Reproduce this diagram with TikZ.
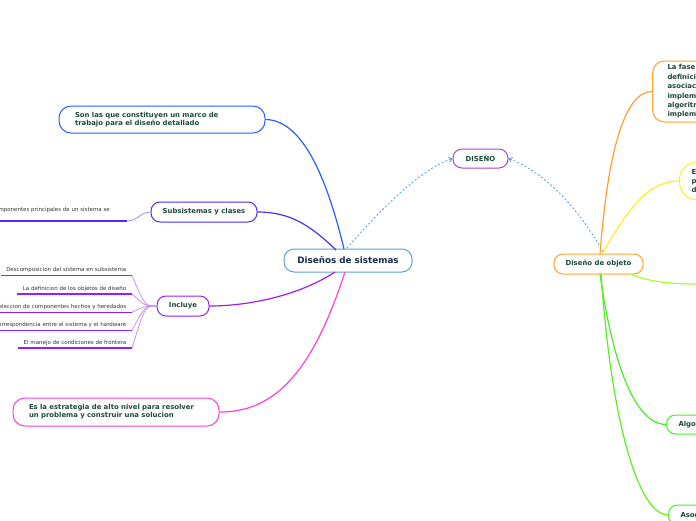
\documentclass[tikz,border=0pt]{standalone}
\usepackage{fontspec}
\setmainfont{DejaVu Sans}
\usetikzlibrary{arrows.meta}
\definecolor{labgreen}{HTML}{1D4A3A}
\definecolor{navy}{HTML}{1A2A50}
\definecolor{leafgray}{HTML}{333333}
\definecolor{cblue}{HTML}{5BA3D9}
\definecolor{cpurple}{HTML}{B23EE6}
\definecolor{corange}{HTML}{FFA030}
\definecolor{cbrightblue}{HTML}{2A5CFF}
\definecolor{cindigo}{HTML}{4B2EF0}
\definecolor{cviolet}{HTML}{9B1FF0}
\definecolor{clviolet}{HTML}{C890F5}
\definecolor{cmagenta}{HTML}{FF40D8}
\definecolor{cyellow}{HTML}{FFEE22}
\definecolor{cgreen}{HTML}{44EE22}
\definecolor{cygreen}{HTML}{A8FF30}
\definecolor{cdash}{HTML}{5599DD}
\begin{document}
\begin{tikzpicture}[x=1pt,y=-1pt,
  box/.style={draw, fill=white, rounded corners=9pt, line width=1pt,
    font=\bfseries\fontsize{6.9}{8.2}\selectfont, text=labgreen, inner sep=0pt},
  leaf/.style={font=\fontsize{5.5}{6.3}\selectfont, text=leafgray, anchor=south east,
    inner xsep=5.5pt, inner ysep=2.5pt},
  conn/.style={line width=1pt},
  uline/.style={line width=1.5pt},
  dashlink/.style={draw=cdash, line width=0.8pt, dash pattern=on 2pt off 2pt,
    -{Straight Barb[length=3pt,width=5pt]}}
]
\useasboundingbox (0,0) rectangle (696,520);
\clip (0,0) rectangle (696,520);

% main nodes
\node[box, draw=cblue, text=navy, font=\bfseries\fontsize{8.8}{10}\selectfont,
  minimum width=128pt, minimum height=23pt, rounded corners=10pt] (c) at (348,260.5) {Diseños de sistemas};
\node[box, draw=cpurple, minimum width=55pt, minimum height=19pt] (dis) at (480.5,158.5) {DISEÑO};
\node[box, draw=corange, minimum width=89pt, minimum height=20pt] (obj) at (598.5,264) {Diseño de objeto};

% left side
\node[box, draw=cbrightblue, rounded corners=12pt, minimum height=27pt,
  text width=174pt, inner xsep=16pt, align=left] (son) at (162,119.5)
  {Son las que constituyen un marco de\\trabajo para el diseño detallado};
\node[box, draw=cindigo, minimum width=106pt, minimum height=20pt] (sub) at (204,212) {Subsistemas y clases};
\node[box, draw=cviolet, minimum width=52pt, minimum height=20pt] (inc) at (183,306) {Incluye};
\node[box, draw=cmagenta, rounded corners=12pt, minimum height=28pt,
  text width=174pt, inner xsep=16pt, align=left] (est) at (116,412)
  {Es la estrategia de alto nivel para resolver\\un problema y construir una solucion};

% leaves
\node[leaf, inner xsep=17pt, inner ysep=8pt] (s1) at (127,221) {Los componentes principales de un sistema se};
\node[leaf] (l1) at (132,275.5) {Descomposicion del sistema en subsistema};
\node[leaf] (l2) at (132,294) {La definicion de los objetos de diseño};
\node[leaf] (l3) at (132,312.3) {La seleccion de componentes hechos y heredados};
\node[leaf] (l4) at (132,330.3) {La correspondencia entre el sistema y el hardware};
\node[leaf] (l5) at (132,348) {El manejo de condiciones de frontera};

% right side
\node[box, draw=corange, rounded corners=12pt, anchor=west, text width=180pt,
  inner xsep=15pt, minimum height=61pt, align=left,
  font=\bfseries\fontsize{6.9}{9.4}\selectfont] (fase) at (652,91.5)
  {La fase de diseño de objetos incluye la\\definición completa de las clases y\\asociaciones usadas en la\\implementación, así como las interfaces y\\algoritmos de los métodos usados para\\implementar las operaciones};
\node[box, draw=cyellow, rounded corners=18pt, anchor=west, text width=170pt,
  inner xsep=12pt, minimum height=38pt, align=left,
  font=\bfseries\fontsize{6.9}{9.2}\selectfont] (esp) at (679,181)
  {Especificación precisa de las\\propiedades de los objetos\\del sistema};
\node[box, draw=cgreen, anchor=west, minimum height=19pt, inner xsep=12pt] (alg) at (666,424.5) {Algoritmos de los métodos};
\node[box, draw=cgreen, anchor=west, minimum height=20pt, inner xsep=12pt] (aso) at (668,515) {Asociaciones};
\coordinate (offr) at (700,284);

% connectors from center
\draw[conn, draw=cbrightblue, line width=1.2pt] (344,249) .. controls (325,170) and (300,120) .. (son.east);
\draw[conn, draw=cindigo, line width=1.2pt] (336,250) .. controls (310,225) and (290,212) .. (sub.east);
\draw[conn, draw=cviolet, line width=1.2pt] (335,272) .. controls (300,295) and (250,306) .. (inc.east);
\draw[conn, draw=cmagenta, line width=1.2pt] (345,272) .. controls (310,380) and (270,412) .. (est.east);

% dashed relations
\draw[dashlink] (347,248) .. controls (385,205) and (420,170) .. (dis.west);
\draw[dashlink] (603,252) .. controls (580,210) and (545,172) .. (dis.east);

% object branches
\draw[conn, draw=corange, line width=1.2pt] (600,254) .. controls (608,150) and (625,91.5) .. (fase.west);
\draw[conn, draw=cyellow, line width=1.2pt] (602,254) .. controls (630,205) and (650,181) .. (esp.west);
\draw[conn, draw=cygreen, line width=1.2pt] (630,274) .. controls (650,282) and (670,284) .. (offr);
\draw[conn, draw=cgreen, line width=1.2pt] (600,274) .. controls (615,380) and (640,424.5) .. (alg.west);
\draw[conn, draw=cgreen!80!lime, line width=1.2pt] (601,274) .. controls (612,430) and (640,515) .. (aso.west);

% leaf connectors
\draw[conn, draw=cindigo!55!white, line width=0.8pt] (sub.west) .. controls (140,212) and (138,221) .. (s1.south east);
\draw[uline, draw=cindigo] (s1.south west) -- (s1.south east);
\foreach \l in {l1,l2,l3,l4,l5}{
  \draw[conn, draw=clviolet, line width=0.8pt] (inc.west) .. controls (145,306) and (145,306) .. (\l.south east);
  \draw[uline, draw=cviolet] (\l.south west) -- (\l.south east);
}
\end{tikzpicture}
\end{document}
